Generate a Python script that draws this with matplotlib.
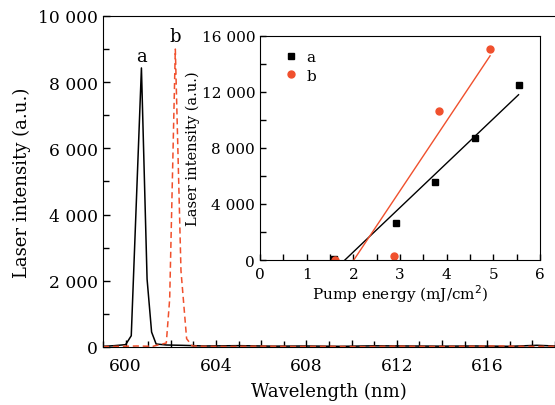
import matplotlib.pyplot as plt
import numpy as np
from matplotlib.ticker import FuncFormatter, MultipleLocator

# spectrum a (black solid)
wl_a = [599.0, 599.5, 600.0, 600.25, 600.7, 600.95, 601.15, 601.35, 601.8, 602.5,
        603.5, 605.0, 606.5, 608.0, 609.5, 611.0, 612.5, 614.0, 615.5, 617.0, 618.2, 619.0]
int_a = [20, 40, 70, 340, 8430, 2050, 450, 90, 60, 50,
         30, 40, 25, 30, 20, 35, 30, 25, 30, 20, 50, 30]

# spectrum b (red dashed)
wl_b = [599.0, 599.8, 600.5, 601.2, 601.8, 601.95, 602.2, 602.45, 602.7, 602.95,
        603.5, 604.5, 606.0, 607.5, 609.0, 610.5, 612.0, 613.5, 615.0, 616.5, 618.0, 619.0]
int_b = [10, 20, 30, 20, 120, 1450, 9000, 2300, 250, 30,
         20, 15, 25, 15, 20, 10, 25, 15, 20, 30, 15, 20]

# inset: output vs pump energy
pump_a = [1.59, 2.92, 3.76, 4.61, 5.54]
peak_a = [100, 2670, 5600, 8740, 12450]
pump_b = [1.61, 2.87, 3.84, 4.93]
peak_b = [0, 290, 10640, 15070]

RED = "#f0502d"
SERIF = ["DejaVu Serif"]


def spaced(v, pos=None):
    return f"{int(round(v)):,}".replace(",", " ")


def wl_label(v, pos=None):
    return f"{v:.0f}" if round(v) % 4 == 0 else ""


def fit_line(x, y):
    k, b = np.polyfit(x, y, 1)
    x0 = -b / k
    xs = np.array([x0, max(x)])
    return xs, k * xs + b


plt.rcParams["font.family"] = SERIF

fig = plt.figure(figsize=(5.55, 4.06), dpi=100)
ax = fig.add_axes([0.1856, 0.1429, 0.8144, 0.8153])

ax.plot(wl_a, int_a, color="black", lw=1.1)
ax.plot(wl_b, int_b, color=RED, lw=1.1, ls=(0, (4, 2.5)))
ax.text(600.7, 8640, "a", ha="center", va="baseline", fontsize=13)
ax.text(602.2, 9240, "b", ha="center", va="baseline", fontsize=13)

ax.set_xlim(599, 619)
ax.set_ylim(0, 10000)
ax.xaxis.set_major_locator(MultipleLocator(2))
ax.xaxis.set_minor_locator(MultipleLocator(1))
ax.xaxis.set_major_formatter(FuncFormatter(wl_label))
ax.yaxis.set_major_locator(MultipleLocator(2000))
ax.yaxis.set_minor_locator(MultipleLocator(1000))
ax.yaxis.set_major_formatter(FuncFormatter(spaced))
ax.tick_params(which="both", direction="in", labelsize=12.3, width=1)
ax.tick_params(which="major", length=5)
ax.tick_params(which="minor", length=4)
ax.tick_params(axis="x", pad=7)
ax.spines["right"].set_visible(False)
ax.set_xlabel("Wavelength (nm)", fontsize=13, labelpad=6)
ax.set_ylabel("Laser intensity (a.u.)", fontsize=13, labelpad=5)

# inset
ins = fig.add_axes([0.4685, 0.357, 0.5045, 0.5526])
xa, ya = fit_line(pump_a, peak_a)
xb, yb = fit_line(pump_b, peak_b)
ins.plot(xa, ya, color="black", lw=1.0)
ins.plot(xb, yb, color=RED, lw=1.0)
ins.plot(pump_a, peak_a, ls="none", marker="s", ms=4.5, color="black", label="a")
ins.plot(pump_b, peak_b, ls="none", marker="o", ms=5, color=RED, label="b")
ins.legend(loc="upper left", bbox_to_anchor=(0.045, 0.99), frameon=False,
           fontsize=11, handlelength=0.8, handletextpad=0.6,
           borderaxespad=0.4, labelspacing=0.3)

ins.set_xlim(0, 6)
ins.set_ylim(0, 16000)
ins.xaxis.set_major_locator(MultipleLocator(1))
ins.xaxis.set_minor_locator(MultipleLocator(0.5))
ins.yaxis.set_major_locator(MultipleLocator(4000))
ins.yaxis.set_minor_locator(MultipleLocator(2000))
ins.yaxis.set_major_formatter(FuncFormatter(spaced))
ins.tick_params(which="both", direction="in", labelsize=11, width=1, length=4)
ins.tick_params(axis="x", pad=5)
ins.set_xlabel("Pump energy (mJ/cm$^2$)", fontsize=11, labelpad=1)
ins.set_ylabel("Laser intensity (a.u.)", fontsize=10.5, labelpad=1)

fig.savefig("out.png", dpi=100)
